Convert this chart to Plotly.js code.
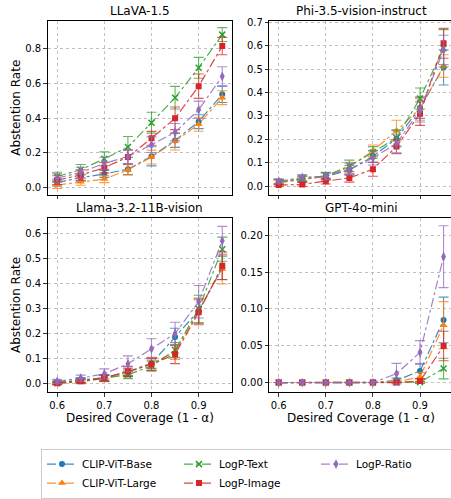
<!DOCTYPE html>
<html><head><meta charset="utf-8">
<script src="https://cdn.plot.ly/plotly-3.0.1.min.js"></script>
<style>html,body{margin:0;padding:0;overflow:hidden;background:#fff}#chart{width:454px;height:499px}</style>
</head><body><div id="chart"></div><script>
const coverage = [0.6, 0.65, 0.7, 0.75, 0.8, 0.85, 0.9, 0.95];
const seriesNames = ["CLIP-ViT-Base", "CLIP-ViT-Large", "LogP-Text", "LogP-Image", "LogP-Ratio"];
const panelTitles = ["LLaVA-1.5", "Phi-3.5-vision-instruct", "Llama-3.2-11B-vision", "GPT-4o-mini"];

// LLaVA-1.5
const llavaBase  = [0.030,0.057,0.079,0.106,0.180,0.272,0.380,0.537];
const llavaLarge = [0.015,0.034,0.049,0.102,0.176,0.267,0.365,0.518];
const llavaText  = [0.064,0.103,0.166,0.234,0.374,0.518,0.690,0.881];
const llavaImage = [0.043,0.072,0.115,0.176,0.284,0.399,0.584,0.815];
const llavaRatio = [0.055,0.087,0.140,0.178,0.247,0.319,0.448,0.641];
const llavaBaseErr  = [0.02,0.02,0.02,0.03,0.055,0.04,0.04,0.047];
const llavaLargeErr = [0.02,0.02,0.02,0.03,0.04,0.05,0.04,0.04];
const llavaTextErr  = [0.025,0.03,0.04,0.06,0.06,0.065,0.06,0.04];
const llavaImageErr = [0.025,0.03,0.03,0.04,0.04,0.065,0.07,0.05];
const llavaRatioErr = [0.025,0.03,0.035,0.04,0.045,0.05,0.05,0.055];

// Phi-3.5-vision-instruct
const phiBase  = [0.018,0.030,0.042,0.068,0.127,0.203,0.335,0.508];
const phiLarge = [0.014,0.028,0.041,0.082,0.151,0.237,0.332,0.514];
const phiText  = [0.018,0.032,0.044,0.086,0.144,0.206,0.375,0.590];
const phiImage = [0.004,0.007,0.021,0.035,0.072,0.169,0.310,0.611];
const phiRatio = [0.021,0.037,0.042,0.073,0.120,0.182,0.324,0.583];
const phiBaseErr  = [0.01,0.012,0.015,0.02,0.025,0.035,0.045,0.075];
const phiLargeErr = [0.01,0.012,0.015,0.02,0.025,0.045,0.05,0.048];
const phiTextErr  = [0.01,0.012,0.015,0.025,0.025,0.035,0.045,0.08];
const phiImageErr = [0.006,0.008,0.012,0.018,0.03,0.03,0.05,0.064];
const phiRatioErr = [0.01,0.012,0.015,0.025,0.03,0.04,0.05,0.063];

// Llama-3.2-11B-vision
const llamaBase  = [0.004,0.014,0.024,0.047,0.081,0.186,0.291,0.462];
const llamaLarge = [0.000,0.008,0.020,0.043,0.080,0.127,0.291,0.458];
const llamaText  = [0.003,0.012,0.022,0.035,0.071,0.134,0.298,0.537];
const llamaImage = [0.001,0.009,0.022,0.049,0.077,0.117,0.285,0.471];
const llamaRatio = [0.009,0.022,0.039,0.079,0.139,0.200,0.327,0.571];
const llamaBaseErr  = [0.006,0.01,0.012,0.015,0.02,0.035,0.05,0.047];
const llamaLargeErr = [0.004,0.008,0.012,0.015,0.025,0.03,0.05,0.06];
const llamaTextErr  = [0.005,0.008,0.012,0.015,0.02,0.03,0.055,0.048];
const llamaImageErr = [0.005,0.008,0.012,0.02,0.025,0.037,0.05,0.055];
const llamaRatioErr = [0.008,0.012,0.02,0.032,0.04,0.045,0.065,0.057];

// GPT-4o-mini
const gptBase  = [0,0,0,0,0,0.003,0.0156,0.085];
const gptLarge = [0,0,0,0,0,0.001,0.0076,0.078];
const gptText  = [0,0,0,0,0,0,0.0005,0.019];
const gptImage = [0,0,0,0,0,0,0.002,0.0496];
const gptRatio = [0,0,0,0,0,0.012,0.041,0.171];
const gptBaseErr  = [0,0,0,0,0,0.003,0.01,0.031];
const gptLargeErr = [0,0,0,0,0,0.002,0.006,0.032];
const gptTextErr  = [0,0,0,0,0,0,0.001,0.014];
const gptImageErr = [0,0,0,0,0,0,0.003,0.02];
const gptRatioErr = [0,0,0,0,0,0.014,0.016,0.042];

const yTickVals = [[0,0.2,0.4,0.6,0.8],[0,0.1,0.2,0.3,0.4,0.5,0.6,0.7],[0,0.1,0.2,0.3,0.4,0.5,0.6],[0,0.05,0.1,0.15,0.2]];
const xTickVals = [0.6, 0.7, 0.8, 0.9];

const panels = [
  {vals:[llavaBase,llavaLarge,llavaText,llavaImage,llavaRatio], errs:[llavaBaseErr,llavaLargeErr,llavaTextErr,llavaImageErr,llavaRatioErr]},
  {vals:[phiBase,phiLarge,phiText,phiImage,phiRatio], errs:[phiBaseErr,phiLargeErr,phiTextErr,phiImageErr,phiRatioErr]},
  {vals:[llamaBase,llamaLarge,llamaText,llamaImage,llamaRatio], errs:[llamaBaseErr,llamaLargeErr,llamaTextErr,llamaImageErr,llamaRatioErr]},
  {vals:[gptBase,gptLarge,gptText,gptImage,gptRatio], errs:[gptBaseErr,gptLargeErr,gptTextErr,gptImageErr,gptRatioErr]}
];

const colors = [[31,119,180],[255,127,14],[44,160,44],[214,39,40],[148,103,189]];
const symbols = ["circle","triangle-up","x-thin","square","diamond-tall"];
const msizes = [6,7,6,6,7];
const ranks = [1,4,2,5,3];
const rgba = (c,a)=>`rgba(${c[0]},${c[1]},${c[2]},${a})`;

const traces = [];
panels.forEach((p, pi) => {
  const ax = pi === 0 ? "" : String(pi + 1);
  p.vals.forEach((v, si) => {
    const c = colors[si];
    traces.push({
      x: coverage, y: v, type: "scatter", mode: "lines+markers",
      name: seriesNames[si], legendgroup: seriesNames[si], showlegend: pi === 0,
      legendrank: ranks[si],
      xaxis: "x" + ax, yaxis: "y" + ax,
      line: {color: rgba(c,0.85), width: 1.2, dash: "dashdot"},
      marker: {symbol: symbols[si], size: msizes[si], color: rgba(c,1),
               line: {color: rgba(c,1), width: symbols[si] === "x-thin" ? 1.5 : 0}},
      error_y: {type: "data", array: p.errs[si], visible: true, color: rgba(c,0.75), thickness: 1.1, width: 5}
    });
  });
});

const W = 454, H = 499;
const xd = [[47.7/W, 231.7/W],[269.3/W, 453/W]];
const yd = [[(H-197.7)/H, (H-21)/H],[(H-397.7)/H, (H-221)/H]];
const yRanges = [[-0.042,0.961],[-0.038,0.708],[-0.034,0.662],[-0.013,0.2237]];
const yDecimals = [1,1,1,2];
const font = "DejaVu Sans, Arial, sans-serif";

const layout = {
  width: W, height: H, margin: {l:0,r:0,t:0,b:0},
  paper_bgcolor: "#fff", plot_bgcolor: "#fff",
  font: {family: font, size: 10, color: "#000"},
  showlegend: true,
  legend: {orientation: "h", x: 41/W, xanchor: "left", y: (H-455)/H, yanchor: "top",
           bordercolor: "#cccccc", borderwidth: 1, bgcolor: "#fff",
           entrywidth: 92, entrywidthmode: "pixels", traceorder: "normal",
           font: {family: font, size: 10.5, color: "#000"}},
  annotations: []
};

for (let pi = 0; pi < 4; pi++) {
  const ax = pi === 0 ? "" : String(pi + 1);
  const col = pi % 2, row = Math.floor(pi / 2);
  layout["xaxis" + ax] = {
    domain: xd[col], range: [0.58, 0.97], anchor: "y" + ax,
    tickvals: xTickVals, ticktext: xTickVals.map(v => v.toFixed(1)), showticklabels: row === 1,
    ticks: "outside", ticklen: 3.5, tickcolor: "#000", tickwidth: 0.8,
    showline: true, mirror: true, linecolor: "#000", linewidth: 1,
    showgrid: true, gridcolor: "#b0b0b0", griddash: "dot", gridwidth: 0.8, zeroline: false,
    tickfont: {family: font, size: 10, color: "#000"}
  };
  layout["yaxis" + ax] = {
    domain: yd[row], range: yRanges[pi], anchor: "x" + ax,
    tickvals: yTickVals[pi], ticktext: yTickVals[pi].map(v => v.toFixed(yDecimals[pi])),
    ticks: "outside", ticklen: 3.5, tickcolor: "#000", tickwidth: 0.8,
    showline: true, mirror: true, linecolor: "#000", linewidth: 1,
    showgrid: true, gridcolor: "#b0b0b0", griddash: "dot", gridwidth: 0.8, zeroline: false,
    tickfont: {family: font, size: 10, color: "#000"}
  };
  layout.annotations.push({
    text: panelTitles[pi], xref: "paper", yref: "paper",
    x: (xd[col][0] + xd[col][1]) / 2, y: yd[row][1], xanchor: "center", yanchor: "bottom", yshift: 1,
    showarrow: false, font: {family: font, size: 12, color: "#000"}
  });
  if (col === 0) {
    layout.annotations.push({
      text: "Abstention Rate", xref: "paper", yref: "paper", textangle: -90,
      x: 16/W, y: (yd[row][0] + yd[row][1]) / 2, xanchor: "center", yanchor: "middle",
      showarrow: false, font: {family: font, size: 12, color: "#000"}
    });
  }
  if (row === 1) {
    layout.annotations.push({
      text: "Desired Coverage (1 - α)", xref: "paper", yref: "paper",
      x: (xd[col][0] + xd[col][1]) / 2, y: (H-424)/H, xanchor: "center", yanchor: "middle",
      showarrow: false, font: {family: font, size: 12, color: "#000"}
    });
  }
}

Plotly.newPlot("chart", traces, layout, {staticPlot: true, displayModeBar: false});
</script></body></html>
